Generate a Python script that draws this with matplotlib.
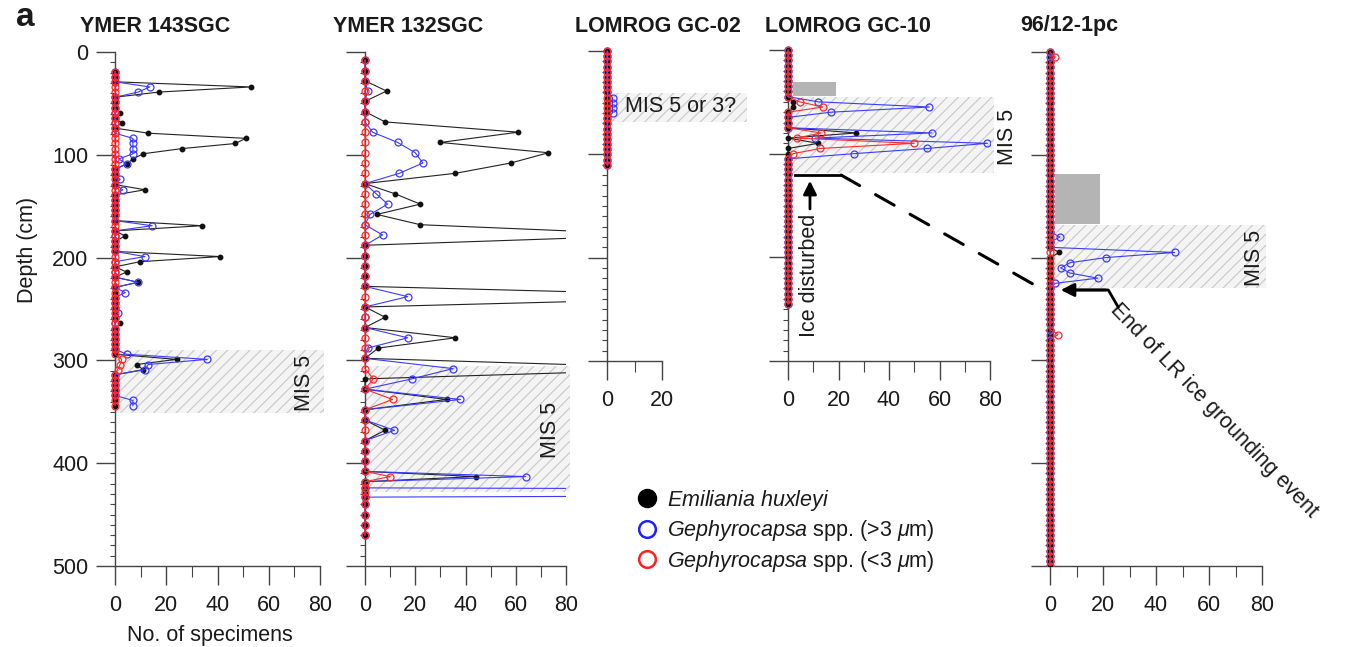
import numpy as np
import matplotlib
matplotlib.use('Agg')
import matplotlib.pyplot as plt
from matplotlib.lines import Line2D
from matplotlib.patches import Rectangle, ConnectionPatch
from matplotlib.ticker import MultipleLocator

plt.rcParams['font.family'] = ['Liberation Sans', 'DejaVu Sans']
plt.rcParams['mathtext.fontset'] = 'custom'
plt.rcParams['mathtext.rm'] = 'Liberation Sans'
plt.rcParams['mathtext.it'] = 'Liberation Sans:italic'
plt.rcParams['hatch.color'] = '#c8c8c8'
plt.rcParams['hatch.linewidth'] = 0.8

# sample depths (cm) and non-zero counts {depth: no. of specimens}
ymer143_depth = np.arange(19, 345, 5)
ymer143_ehux = {34: 53, 39: 17, 59: 2, 69: 2.6, 79: 13, 84: 51, 89: 47, 94: 26, 99: 11,
                104: 7, 109: 4.5, 134: 11.7, 169: 34, 179: 4, 199: 41, 204: 9.7, 214: 4.5,
                224: 9, 264: 2, 299: 24, 304: 8.4, 309: 11}
ymer143_geph_l = {34: 13.6, 39: 9, 84: 7, 89: 7, 94: 7, 99: 7, 104: 1.5, 109: 4.5, 124: 2,
                  134: 3, 169: 14.5, 199: 11.7, 224: 9, 234: 4, 254: 1, 294: 4.5, 299: 36,
                  304: 13, 309: 11.7, 339: 7, 344: 7}
ymer143_geph_s = {299: 2.6, 304: 2, 309: 1}

ymer132_depth = np.r_[np.arange(8, 409, 10), [413, 418, 424, 428, 433, 440, 450, 460, 470]]
ymer132_ehux = {38: 8.6, 68: 8, 78: 61, 88: 30, 98: 73, 108: 58, 118: 36, 138: 12, 148: 22,
                158: 4.7, 168: 22, 178: 120, 238: 160, 258: 8, 278: 36, 288: 5.3, 308: 135,
                338: 32.5, 368: 8, 413: 44}
ymer132_geph_l = {38: 1, 78: 3, 88: 13, 98: 20, 108: 23, 118: 13.7, 138: 4.5, 148: 9, 158: 2,
                  178: 7, 238: 17, 278: 17, 288: 1, 308: 35, 318: 18.6, 338: 38, 368: 11.7,
                  413: 64, 428: 600}
ymer132_geph_s = {318: 3.3, 338: 11, 413: 10}

gc02_depth = np.arange(0, 111, 5)
gc02_ehux = {}
gc02_geph_l = {45: 2, 50: 2, 55: 2, 60: 2}
gc02_geph_s = {}

gc10_depth = np.arange(0, 246, 5)
gc10_ehux = {50: 2, 55: 2, 80: 27, 90: 12}
gc10_geph_l = {50: 12, 55: 56, 60: 17, 80: 57, 85: 10.7, 90: 79, 95: 55, 100: 26}
gc10_geph_s = {50: 4.6, 55: 13.8, 80: 13, 85: 3.5, 90: 50, 95: 12.7, 100: 2}

pc_depth = np.arange(0, 501, 5)
pc_ehux = {195: 3.5}
pc_geph_l = {180: 3.8, 195: 47, 200: 21, 205: 7.5, 210: 4, 215: 7.5, 220: 18, 225: 2}
pc_geph_s = {5: 2, 275: 3}

titles = ['YMER 143SGC', 'YMER 132SGC', 'LOMROG GC-02', 'LOMROG GC-10', '96/12-1pc']
# MIS intervals (top, bottom cm) and labels
mis_spans = [(290, 351), (305, 428), (41, 69), (45, 119), (168, 230)]
mis_labels = ['MIS 5', 'MIS 5', 'MIS 5 or 3?', 'MIS 5', 'MIS 5']
grey_boxes = {3: (31, 44.5), 4: (119, 167)}

W, H = 1355, 647
FS = 15.5
TXT = '#1a1a1a'
fig = plt.figure(figsize=(W / 100, H / 100), dpi=100)


def counts(depth, d):
    v = np.zeros(len(depth))
    for k, c in d.items():
        v[np.argmin(np.abs(depth - k))] = c
    return v


def make_axes(x0, x1, y0, y1, xmax, ymax, pad=8):
    sx = (x1 - x0) / xmax
    sy = (y1 - y0) / ymax
    left, top = x0 - pad, y0 - pad
    ax = fig.add_axes([left / W, 1 - y1 / H, (x1 - left) / W, (y1 - top) / H])
    ax.set_xlim(-pad / sx, xmax)
    ax.set_ylim(ymax, -pad / sy)
    ax.patch.set_alpha(0)
    for s in ['top', 'right']:
        ax.spines[s].set_visible(False)
    ax.spines['left'].set_position(('data', 0))
    ax.spines['left'].set_bounds(0, ymax)
    ax.spines['bottom'].set_bounds(0, xmax)
    for s in ['left', 'bottom']:
        ax.spines[s].set_color('#444444')
        ax.spines[s].set_linewidth(1.0)
    ax.yaxis.set_major_locator(MultipleLocator(100))
    ax.yaxis.set_minor_locator(MultipleLocator(10))
    ax.xaxis.set_major_locator(MultipleLocator(20))
    ax.xaxis.set_minor_locator(MultipleLocator(10))
    ax.set_xticks(np.arange(0, xmax + 1, 20))
    ax.tick_params(axis='both', which='both', direction='out', color='#444444',
                   labelsize=FS, labelcolor=TXT)
    ax.tick_params(axis='y', which='major', length=14, width=1.0, pad=5)
    ax.tick_params(axis='y', which='minor', length=3.5, width=0.8)
    ax.tick_params(axis='x', which='major', length=14, width=1.0, pad=7)
    ax.tick_params(axis='x', which='minor', length=8, width=0.8)
    return ax


layout = [(115, 320, 52, 566, 80, 500),
          (365, 566, 52, 566, 80, 500),
          (607, 662, 51, 361, 20, 300),
          (788, 990, 50, 361, 80, 300),
          (1050, 1262, 52, 566, 80, 500)]
title_x = [80, 333, 575, 765, 1020]
mis_text_pos = [(74, 322), (74, 368), (6.5, 54), (87, 84), (77, 200)]

data = [(ymer143_depth, ymer143_ehux, ymer143_geph_l, ymer143_geph_s),
        (ymer132_depth, ymer132_ehux, ymer132_geph_l, ymer132_geph_s),
        (gc02_depth, gc02_ehux, gc02_geph_l, gc02_geph_s),
        (gc10_depth, gc10_ehux, gc10_geph_l, gc10_geph_s),
        (pc_depth, pc_ehux, pc_geph_l, pc_geph_s)]

axes = []
for i, (lay, (depth, eh, gl, gs)) in enumerate(zip(layout, data)):
    ax = make_axes(*lay)
    axes.append(ax)
    xmax = lay[4]
    if i > 0:
        ax.tick_params(labelleft=False)
    # MIS interval
    top, bot = mis_spans[i]
    xr = 51 if i == 2 else xmax + 1.5
    ax.add_patch(Rectangle((0, top), xr, bot - top, facecolor='#f4f4f4', edgecolor='#c8c8c8',
                           hatch='///', lw=0, zorder=0, clip_on=False))
    tx, ty = mis_text_pos[i]
    if i == 2:
        ax.text(tx, ty, mis_labels[i], fontsize=FS, color=TXT, ha='left', va='center',
                zorder=5)
    else:
        ax.text(tx, ty, mis_labels[i], fontsize=FS, color=TXT, rotation=90,
                ha='center', va='center', zorder=5)
    if i in grey_boxes:
        g0, g1 = grey_boxes[i]
        ax.add_patch(Rectangle((2, g0), 17, g1 - g0, facecolor='#b4b4b4', lw=0, zorder=1))
    # series
    ax.plot(counts(depth, eh), depth, color='#222222', lw=0.8, marker='o', ms=3.2,
            mfc='#111111', mec='#111111', zorder=3)
    ax.plot(counts(depth, gl), depth, color='#3b3bff', lw=0.8, marker='o', ms=5,
            mfc='none', mec='#3b3bff', mew=0.9, zorder=3)
    ax.plot(counts(depth, gs), depth, color='#ff2a2a', lw=0.8, marker='o', ms=5,
            mfc='none', mec='#ff2a2a', mew=0.9, zorder=4)
    fig.text(title_x[i] / W, 1 - 26 / H, titles[i], fontsize=FS, fontweight='bold',
             color=TXT, ha='left', va='center')

ax1, ax2, ax3, ax4, ax5 = axes
fig.text(28 / W, 1 - 250 / H, 'Depth (cm)', rotation=90, fontsize=FS, color=TXT,
         ha='center', va='center')
fig.text(210 / W, 1 - 635 / H, 'No. of specimens', fontsize=FS, color=TXT,
         ha='center', va='center')
fig.text(25 / W, 1 - 18 / H, 'a', fontsize=24, fontweight='bold', color=TXT,
         ha='center', va='center')

# ice disturbed marker in GC-10
ax4.plot([2.8, 21], [120.6, 120.6], color='k', lw=2, clip_on=False, zorder=6)
ax4.annotate('', xy=(8.7, 123.5), xytext=(8.7, 156),
             arrowprops=dict(arrowstyle='-|>', color='k', lw=2, mutation_scale=20))
ax4.text(8.7, 158, 'Ice disturbed', rotation=90, fontsize=FS, color=TXT,
         ha='center', va='top')
con = ConnectionPatch(xyA=(21, 120.6), coordsA=ax4.transData,
                      xyB=(-3.8, 229.6), coordsB=ax5.transData,
                      color='k', lw=2.2, linestyle=(0, (7, 6)), zorder=6)
fig.add_artist(con)

# LR ice grounding event in 96/12-1pc
ax5.plot([25.7, 22, 10], [248, 231.5, 231.5], color='k', lw=2, clip_on=False, zorder=6)
ax5.annotate('', xy=(3, 231.5), xytext=(22, 231.5),
             arrowprops=dict(arrowstyle='-|>', color='k', lw=2, mutation_scale=20))
ax5.text(27, 241, 'End of LR ice grounding event', rotation=-46, rotation_mode='anchor',
         fontsize=FS, color=TXT, ha='left', va='top')

handles = [Line2D([], [], ls='none', marker='o', ms=13, mfc='k', mec='k'),
           Line2D([], [], ls='none', marker='o', ms=12, mfc='none', mec='#2020ff', mew=1.8),
           Line2D([], [], ls='none', marker='o', ms=12, mfc='none', mec='#ff2020', mew=1.8)]
labels = [r'$\it{Emiliania\ huxleyi}$',
          r'$\it{Gephyrocapsa}$ spp. (>3 $\mu$m)',
          r'$\it{Gephyrocapsa}$ spp. (<3 $\mu$m)']
fig.legend(handles, labels, loc='upper left', bbox_to_anchor=(636 / W, 1 - 488 / H),
           frameon=False, fontsize=FS, handlelength=1.0, handletextpad=0.45,
           labelspacing=0.25, borderpad=0, borderaxespad=0, labelcolor=TXT)

fig.savefig('out.png', dpi=100)
